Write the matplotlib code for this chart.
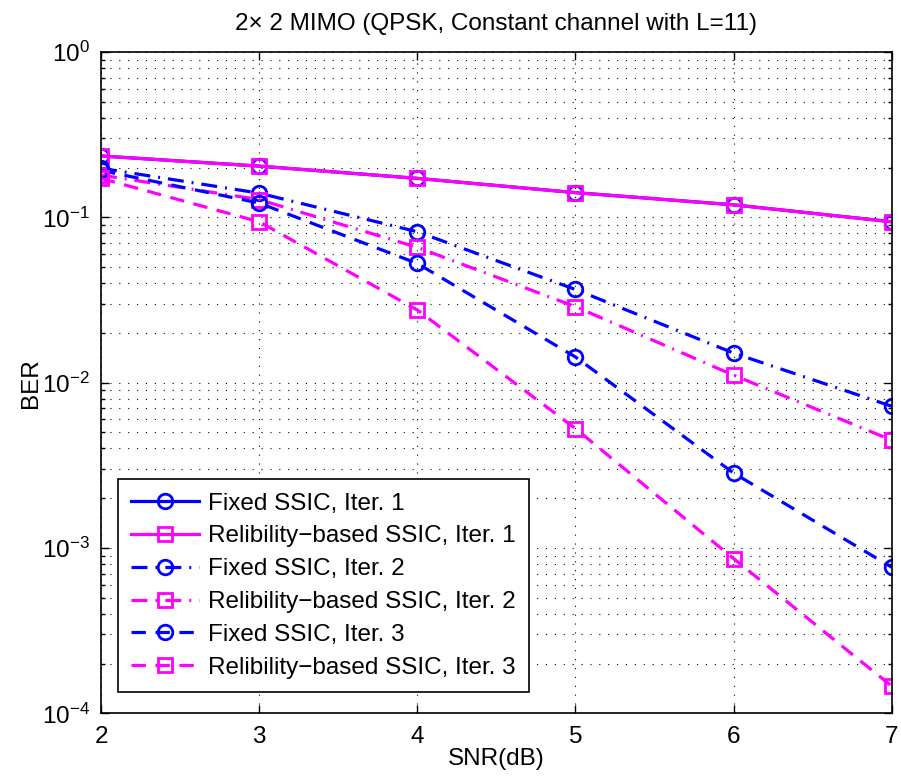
import numpy as np
import matplotlib
matplotlib.use("Agg")
import matplotlib.pyplot as plt
from matplotlib.ticker import LogLocator, NullFormatter

plt.rcParams["font.family"] = ["Liberation Sans", "DejaVu Sans"]
plt.rcParams["mathtext.fontset"] = "custom"
plt.rcParams["mathtext.rm"] = "Liberation Sans"
plt.rcParams["mathtext.it"] = "Liberation Sans:italic"

snr = [2, 3, 4, 5, 6, 7]

fixed_it1 = [0.235, 0.204, 0.172, 0.141, 0.119, 0.094]
rel_it1 = [0.235, 0.204, 0.172, 0.141, 0.119, 0.094]
fixed_it2 = [0.198, 0.140, 0.0818, 0.0366, 0.0151, 0.00720]
rel_it2 = [0.180, 0.128, 0.0658, 0.0288, 0.0111, 0.00449]
fixed_it3 = [0.192, 0.122, 0.0526, 0.0143, 0.00284, 0.000765]
rel_it3 = [0.172, 0.094, 0.0275, 0.00528, 0.000863, 0.000146]

labels = [
    "Fixed SSIC, Iter. 1",
    "Relibility\u2212based SSIC, Iter. 1",
    "Fixed SSIC, Iter. 2",
    "Relibility\u2212based SSIC, Iter. 2",
    "Fixed SSIC, Iter. 3",
    "Relibility\u2212based SSIC, Iter. 3",
]

blue = "#0000FF"
magenta = "#FF00FF"
fs = 17.5

fig = plt.figure(figsize=(9.01, 7.78), dpi=100)
ax = fig.add_axes([0.1121, 0.0831, 0.8776, 0.8501])

common = dict(lw=2.3, markersize=10.5, markeredgewidth=2.0, markerfacecolor="none")
ax.semilogy(snr, fixed_it1, color=blue, ls="-", marker="o", label=labels[0], **common)
ax.semilogy(snr, rel_it1, color=magenta, ls="-", marker="s", label=labels[1], **common)
ax.semilogy(snr, fixed_it2, color=blue, ls="-.", dashes=(5, 2.5, 0.6, 2.5), marker="o", label=labels[2], **common)
ax.semilogy(snr, rel_it2, color=magenta, ls="-.", dashes=(5, 2.5, 0.6, 2.5), marker="s", label=labels[3], **common)
ax.semilogy(snr, fixed_it3, color=blue, ls="--", dashes=(4.5, 3), marker="o", label=labels[4], **common)
ax.semilogy(snr, rel_it3, color=magenta, ls="--", dashes=(4.5, 3), marker="s", label=labels[5], **common)

ax.set_xlim(2, 7)
ax.set_ylim(1e-4, 1)
ax.set_xticks(snr)
ax.yaxis.set_major_locator(LogLocator(base=10, numticks=10))
ax.yaxis.set_minor_locator(LogLocator(base=10, subs=np.arange(2, 10), numticks=20))
ax.yaxis.set_minor_formatter(NullFormatter())

ax.tick_params(which="both", direction="in", top=True, right=True, labelsize=fs, width=1)
ax.tick_params(which="major", length=6)
ax.tick_params(which="minor", length=3)
ax.tick_params(axis="x", pad=9)
ax.tick_params(axis="y", pad=8)
for s in ax.spines.values():
    s.set_linewidth(1.2)

grid_style = dict(ls=(0, (1, 7)), color="black", lw=0.8)
ax.grid(True, which="major", **grid_style)
ax.grid(True, which="minor", axis="y", **grid_style)

ax.set_xlabel("SNR(dB)", fontsize=fs, labelpad=0)
ax.set_ylabel("BER", fontsize=fs, labelpad=0)
ax.set_title("2\u00d7 2 MIMO (QPSK, Constant channel with L=11)", fontsize=fs, pad=16)

leg = ax.legend(loc="lower left", bbox_to_anchor=(0.021, 0.032), fontsize=fs,
                handlelength=2.8, framealpha=1, fancybox=False, edgecolor="black",
                borderpad=0.55, labelspacing=0.445, handletextpad=0.37, borderaxespad=0)
leg.get_frame().set_linewidth(1.2)

fig.savefig("out.png", dpi=100)
